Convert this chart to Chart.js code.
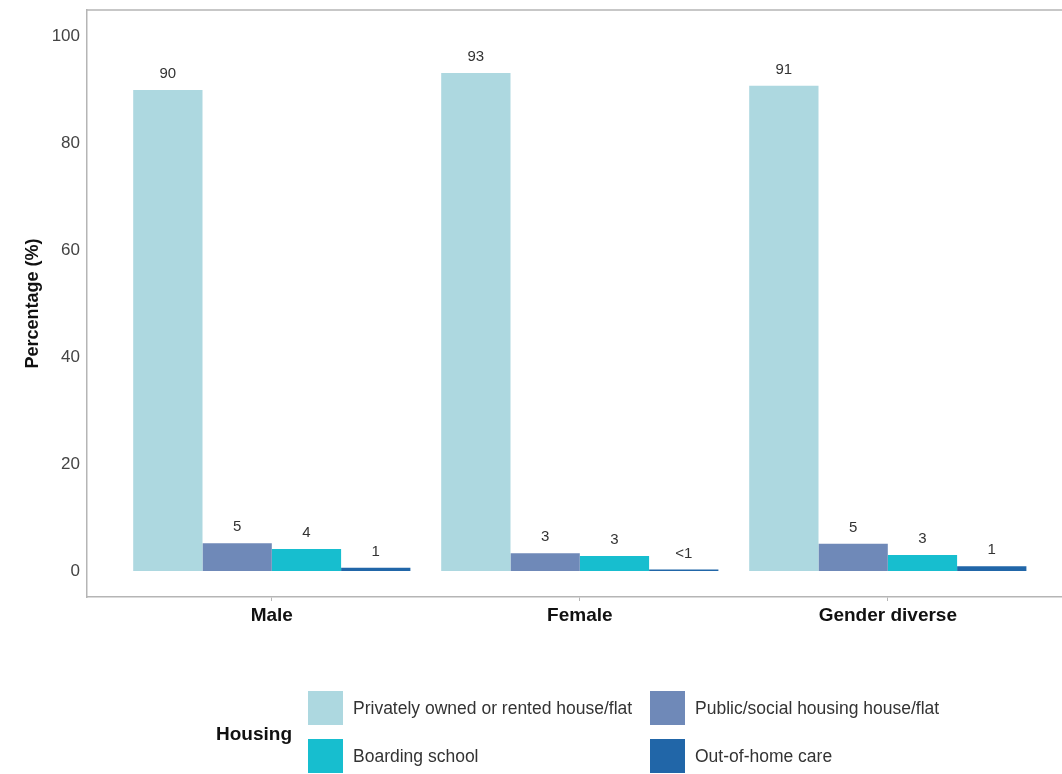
<!DOCTYPE html>
<html>
<head>
<meta charset="utf-8">
<script src="https://cdn.jsdelivr.net/npm/chart.js@4"></script>
<style>
  html, body { margin: 0; padding: 0; background: #fff; overflow: hidden; }
  #wrap { position: relative; width: 1062px; height: 774px; }
  #legend { position: absolute; left: 0; top: 0; width: 1062px; height: 774px; pointer-events: none;
            font-family: "Liberation Sans", Arial, sans-serif; color: #333; }
  .sw { position: absolute; width: 35px; height: 34px; }
  .lt { position: absolute; font-size: 17.5px; line-height: 34px; white-space: nowrap; }
  #ltitle { position: absolute; left: 216px; top: 721px; font-size: 19px; font-weight: bold; color: #111; line-height: 26px; }
</style>
</head>
<body>
<div id="wrap">
  <canvas id="chart" width="1062" height="774"></canvas>
  <div id="legend"></div>
</div>
<script>
const groups = ['Male', 'Female', 'Gender diverse'];
const housing = ['Privately owned or rented house/flat', 'Public/social housing house/flat', 'Boarding school', 'Out-of-home care'];
const privateVals = [89.9, 93.1, 90.7];
const publicVals = [5.2, 3.3, 5.1];
const boardingVals = [4.1, 2.8, 3.0];
const careVals = [0.6, 0.3, 0.9];
const privateLabels = ['90', '93', '91'];
const publicLabels = ['5', '3', '5'];
const boardingLabels = ['4', '3', '3'];
const careLabels = ['1', '<1', '1'];
const yTicks = [0, 20, 40, 60, 80, 100];
const colors = ['#ADD8E0', '#6F89B8', '#17BECF', '#2166A8'];

const series = [privateVals, publicVals, boardingVals, careVals];
const seriesLabels = [privateLabels, publicLabels, boardingLabels, careLabels];

const axisColor = '#B5B5B5';
const fontFamily = '"Liberation Sans", Arial, sans-serif';

// ggplot-like panel border on the top edge
const topBorder = {
    id: 'topBorder',
    afterDraw(chart) {
        const { ctx, chartArea } = chart;
        ctx.save();
        ctx.strokeStyle = axisColor;
        ctx.lineWidth = 1.5;
        ctx.beginPath();
        ctx.moveTo(chartArea.left, chartArea.top);
        ctx.lineTo(chartArea.right, chartArea.top);
        ctx.stroke();
        ctx.restore();
    }
};

const valueLabels = {
    id: 'valueLabels',
    afterDatasetsDraw(chart) {
        const { ctx } = chart;
        ctx.save();
        ctx.font = '15px ' + fontFamily;
        ctx.fillStyle = '#333';
        ctx.textAlign = 'center';
        ctx.textBaseline = 'middle';
        chart.data.datasets.forEach((ds, i) => {
            chart.getDatasetMeta(i).data.forEach((bar, j) => {
                ctx.fillText(seriesLabels[i][j], bar.x, bar.y - 16);
            });
        });
        ctx.restore();
    }
};

function noEdgePadding(scale) {
    scale.paddingTop = 0;
    scale.paddingBottom = 0;
    scale.paddingLeft = 0;
    scale.paddingRight = 0;
}

const ctx = document.getElementById('chart').getContext('2d');
new Chart(ctx, {
    type: 'bar',
    data: {
        datasets: series.map((vals, i) => ({
            label: housing[i],
            data: vals.map((v, j) => ({ x: j, y: v })),
            backgroundColor: colors[i],
            borderWidth: 0,
            categoryPercentage: 0.9,
            barPercentage: 1.0
        }))
    },
    options: {
        responsive: false,
        animation: false,
        layout: { padding: { top: 10, right: 0, left: 0, bottom: 0 } },
        plugins: { legend: { display: false }, tooltip: { enabled: false } },
        scales: {
            x: {
                type: 'linear',
                offset: false,
                min: -0.6,
                max: -0.6 + (1062 - 87) / 308,
                afterBuildTicks(scale) {
                    scale.ticks = groups.map((g, i) => ({ value: i }));
                },
                afterFit(scale) { scale.height = 177; noEdgePadding(scale); },
                grid: { display: true, offset: false, drawOnChartArea: false, drawTicks: true, tickLength: 4, color: axisColor },
                border: { display: true, color: axisColor, width: 1.5 },
                ticks: {
                    padding: 3,
                    color: '#111',
                    font: { family: fontFamily, size: 19, weight: 'bold' },
                    callback: (v) => groups[v]
                }
            },
            y: {
                type: 'linear',
                min: -4.86,
                max: 104.86,
                afterBuildTicks(scale) {
                    scale.ticks = yTicks.map(v => ({ value: v }));
                },
                afterFit(scale) { scale.width = 87; noEdgePadding(scale); },
                grid: { display: false, drawTicks: false },
                border: { display: true, color: axisColor, width: 1.5 },
                ticks: {
                    padding: 7,
                    color: '#444',
                    font: { family: fontFamily, size: 17 }
                },
                title: {
                    display: true,
                    text: 'Percentage (%)',
                    color: '#111',
                    font: { family: fontFamily, size: 18, weight: 'bold' },
                    padding: { top: 22, bottom: 0 }
                }
            }
        }
    },
    plugins: [topBorder, valueLabels]
});

// legend: two columns, two rows, title on the left
const legend = document.getElementById('legend');
legend.innerHTML = '<div id="ltitle">Housing</div>';
const cols = [308, 650];
const rows = [691, 739];
housing.forEach((name, i) => {
    const c = i % 2, r = Math.floor(i / 2);
    legend.innerHTML += `<div class="sw" style="left:${cols[c]}px;top:${rows[r]}px;background:${colors[i]}"></div>` +
        `<div class="lt" style="left:${cols[c] + 45}px;top:${rows[r]}px">${name}</div>`;
});
</script>
</body>
</html>
